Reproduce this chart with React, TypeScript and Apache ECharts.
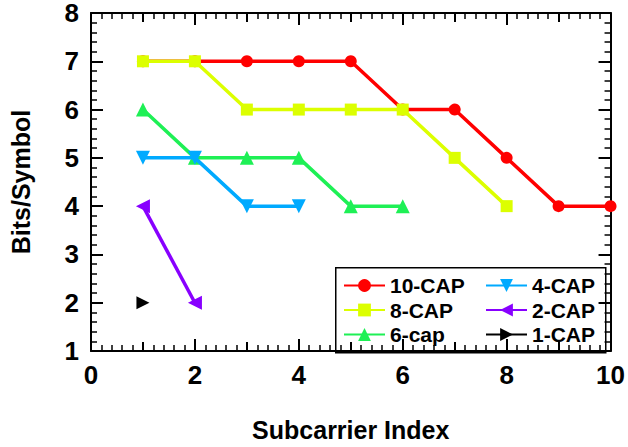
import React, { useEffect, useRef } from "react";
import * as echarts from "echarts";

const xValues = [1, 2, 3, 4, 5, 6, 7, 8, 9, 10];
const cap10 = [7, 7, 7, 7, 7, 6, 6, 5, 4, 4];
const cap8 = [7, 7, 6, 6, 6, 6, 5, 4];
const cap6 = [6, 5, 5, 5, 4, 4];
const cap4 = [5, 5, 4, 4];
const cap2 = [4, 2];
const cap1 = [2];

const seriesNames = ["10-CAP", "8-CAP", "6-cap", "4-CAP", "2-CAP", "1-CAP"];
const seriesValues = [cap10, cap8, cap6, cap4, cap2, cap1];
const seriesColors = ["#ff0000", "#dcff00", "#1ef055", "#00aaff", "#8800ff", "#000000"];
const seriesSymbols = ["circle", "rect", "triangle", "triangle", "triangle", "triangle"];
const seriesRotate = [0, 0, 0, 180, 90, -90];
const seriesSymbolSize = [12, 12, 14, 14, 14, 13];

const FONT = "'Liberation Sans', Arial, sans-serif";

export default function App() {
  const ref = useRef<HTMLDivElement>(null);
  useEffect(() => {
    if (!ref.current) return;
    const chart = echarts.init(ref.current, null, { renderer: "svg" });
    const mainTick = { show: true, inside: true, length: 12, lineStyle: { color: "#000", width: 2 } };
    const minorX = { show: true, splitNumber: 10, length: 6, lineStyle: { color: "#000", width: 1.5 } };
    const minorY = { show: true, splitNumber: 5, length: 6, lineStyle: { color: "#000", width: 1.5 } };
    const axisLine = { show: true, onZero: false, lineStyle: { color: "#000", width: 2 } };
    const labelStyle = { fontSize: 26, fontWeight: "bold", color: "#000", fontFamily: FONT, lineHeight: 20 };
    const baseX = { type: "value", min: 0, max: 10, splitLine: { show: false } };
    const baseY = { type: "value", min: 1, max: 8, interval: 1, splitLine: { show: false } };
    const legendText = { fontSize: 21, fontWeight: "bold", color: "#000", fontFamily: FONT, lineHeight: 21 };
    const option: any = {
      animation: false,
      grid: { left: 89, right: 15, top: 10, bottom: 90, containLabel: false },
      xAxis: [
        {
          ...baseX,
          position: "bottom",
          interval: 2,
          axisLine,
          axisTick: mainTick,
          minorTick: minorX,
          axisLabel: { ...labelStyle, margin: 14 },
          name: "Subcarrier Index",
          nameLocation: "middle",
          nameGap: 66,
          nameTextStyle: { fontSize: 25, fontWeight: "bold", color: "#000", fontFamily: FONT },
        },
        {
          ...baseX,
          position: "bottom",
          interval: 1,
          axisLine: { show: false },
          axisTick: { show: true, inside: true, length: 9, lineStyle: { color: "#000", width: 2 } },
          axisLabel: { show: false },
        },
        {
          ...baseX,
          position: "top",
          interval: 2,
          axisLine,
          axisTick: mainTick,
          minorTick: minorX,
          axisLabel: { show: false },
        },
        {
          ...baseX,
          position: "top",
          interval: 1,
          axisLine: { show: false },
          axisTick: { show: true, inside: true, length: 9, lineStyle: { color: "#000", width: 2 } },
          axisLabel: { show: false },
        },
      ],
      yAxis: [
        {
          ...baseY,
          position: "left",
          axisLine,
          axisTick: mainTick,
          minorTick: minorY,
          axisLabel: { ...labelStyle, margin: 12 },
          name: "Bits/Symbol",
          nameLocation: "middle",
          nameGap: 58,
          nameTextStyle: { fontSize: 25, fontWeight: "bold", color: "#000", fontFamily: FONT },
        },
        {
          ...baseY,
          position: "right",
          axisLine,
          axisTick: mainTick,
          minorTick: minorY,
          axisLabel: { show: false },
        },
      ],
      legend: [
        {
          data: seriesNames.slice(0, 3),
          orient: "vertical",
          left: 343,
          top: 275,
          itemWidth: 41,
          itemHeight: 16,
          itemGap: 3.5,
          padding: 0,
          textStyle: legendText,
        },
        {
          data: seriesNames.slice(3, 6),
          orient: "vertical",
          left: 485,
          top: 275,
          itemWidth: 41,
          itemHeight: 16,
          itemGap: 3.5,
          padding: 0,
          textStyle: legendText,
        },
      ],
      graphic: [
        {
          type: "rect",
          left: 335,
          top: 267,
          z: 0,
          shape: { width: 270, height: 85 },
          style: { fill: "#fff", stroke: "#000", lineWidth: 1.5 },
        },
      ],
      series: seriesValues.map((vals, i) => ({
        name: seriesNames[i],
        type: "line",
        xAxisIndex: 0,
        yAxisIndex: 0,
        data: vals.map((v, j) => [xValues[j], v]),
        symbol: seriesSymbols[i],
        symbolSize: seriesSymbolSize[i],
        symbolRotate: seriesRotate[i],
        showAllSymbol: true,
        color: seriesColors[i],
        lineStyle: { color: seriesColors[i], width: 3.5 },
        itemStyle: { color: seriesColors[i] },
        z: 2 + i,
      })),
    };
    chart.setOption(option);
    return () => chart.dispose();
  }, []);
  return <div ref={ref} style={{ width: 628, height: 447, position: "absolute", left: 0, top: 0 }} />;
}
